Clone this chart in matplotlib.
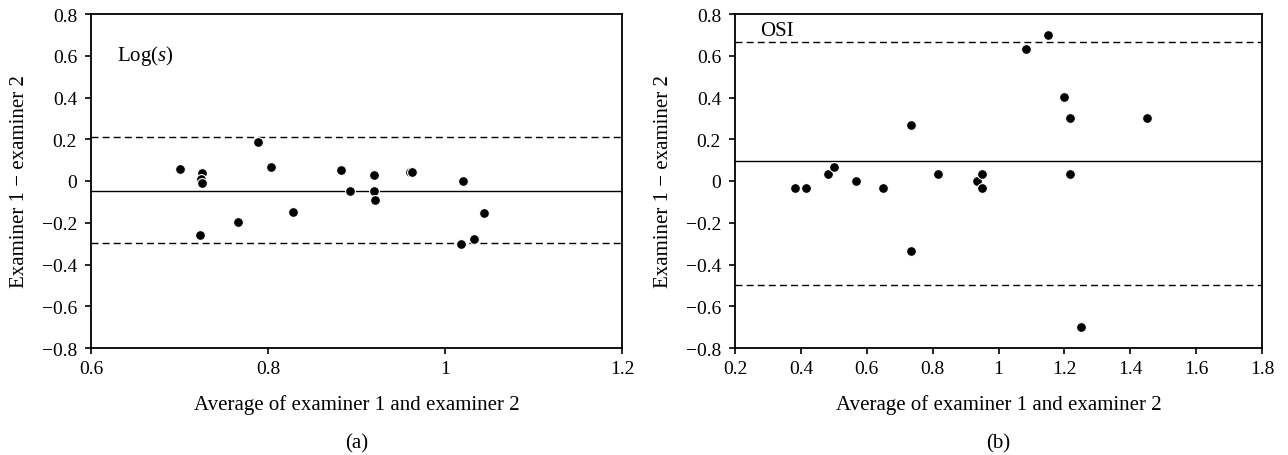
import matplotlib
matplotlib.use("Agg")
import matplotlib.pyplot as plt

plt.rcParams['font.family'] = ['Liberation Serif', 'DejaVu Serif']
plt.rcParams['mathtext.fontset'] = 'custom'
plt.rcParams['mathtext.it'] = 'Liberation Serif:italic'
plt.rcParams['mathtext.rm'] = 'Liberation Serif'

# Panel (a): Log(s)
a_avg = [0.701, 0.725, 0.724, 0.725, 0.723, 0.766, 0.789, 0.803, 0.828, 0.883,
         0.893, 0.920, 0.920, 0.921, 0.961, 0.963, 1.020, 1.018, 1.033, 1.044]
a_diff = [0.058, 0.038, 0.011, -0.010, -0.258, -0.197, 0.188, 0.067, -0.149, 0.055,
          -0.047, 0.027, -0.047, -0.090, 0.042, 0.042, 0.002, -0.303, -0.279, -0.151]
a_mean, a_upper, a_lower = -0.050, 0.212, -0.295

# Panel (b): OSI
b_avg = [0.383, 0.417, 0.483, 0.501, 0.567, 0.650, 0.733, 0.733, 0.817, 0.934,
         0.950, 0.950, 1.084, 1.150, 1.200, 1.216, 1.216, 1.450, 1.250]
b_diff = [-0.034, -0.034, 0.034, 0.066, 0.0, -0.034, 0.266, -0.334, 0.034, 0.0,
          0.034, -0.034, 0.634, 0.701, 0.401, 0.300, 0.034, 0.300, -0.700]
b_mean, b_upper, b_lower = 0.096, 0.666, -0.497

a_xticks = [0.6, 0.8, 1.0, 1.2]
a_xlabels = ['0.6', '0.8', '1', '1.2']
b_xticks = [0.2, 0.4, 0.6, 0.8, 1.0, 1.2, 1.4, 1.6, 1.8]
b_xlabels = ['0.2', '0.4', '0.6', '0.8', '1', '1.2', '1.4', '1.6', '1.8']
yticks = [0.8, 0.6, 0.4, 0.2, 0.0, -0.2, -0.4, -0.6, -0.8]
ylabels = ['0.8', '0.6', '0.4', '0.2', '0', '\u22120.2', '\u22120.4', '\u22120.6', '\u22120.8']

fig = plt.figure(figsize=(12.88, 4.56), dpi=100)
ax1 = fig.add_axes([91/1288, 107/456, 531/1288, 334/456])
ax2 = fig.add_axes([735/1288, 107/456, 527/1288, 334/456])

def style(ax, avg, diff, mean, up, lo, xlim, xt, xl, tag, label, lx, ly, ylx):
    ax.axhline(mean, color='black', lw=1.0, zorder=1)
    ax.axhline(up, color='black', lw=1.0, ls=(0, (5, 3)), zorder=1)
    ax.axhline(lo, color='black', lw=1.0, ls=(0, (5, 3)), zorder=1)
    ax.scatter(avg, diff, s=50, c='black', edgecolors='white', linewidths=0.8, zorder=3)
    ax.set_xlim(*xlim)
    ax.set_ylim(-0.8, 0.8)
    ax.set_xticks(xt)
    ax.set_xticklabels(xl)
    ax.set_yticks(yticks)
    ax.set_yticklabels(ylabels)
    ax.tick_params(direction='out', length=4, width=1.2, labelsize=14, colors='black')
    ax.tick_params(axis='y', pad=6)
    ax.tick_params(axis='x', pad=5)
    for s in ax.spines.values():
        s.set_linewidth(1.3)
    ax.set_xlabel('Average of examiner 1 and examiner 2', fontsize=15)
    ax.xaxis.label.set_va('center')
    ax.xaxis.set_label_coords(0.5, (349 - 405) / 334)
    ax.set_ylabel('Examiner 1 \u2212 examiner 2', fontsize=15)
    ax.yaxis.label.set_va('center')
    ax.yaxis.set_label_coords(ylx, 0.5)
    ax.text(lx, ly, label, fontsize=15, ha='left', va='center')
    ax.text(0.5, (349 - 444) / 334, tag, transform=ax.transAxes, fontsize=15,
            ha='center', va='center')

style(ax1, a_avg, a_diff, a_mean, a_upper, a_lower, (0.6, 1.2), a_xticks, a_xlabels,
      '(a)', 'Log($\\mathit{s}$)', 0.629, 0.605, (20 - 91) / 531)
style(ax2, b_avg, b_diff, b_mean, b_upper, b_lower, (0.2, 1.8), b_xticks, b_xlabels,
      '(b)', 'OSI', 0.275, 0.72, (663 - 735) / 527)

fig.savefig('out.png', dpi=100)
